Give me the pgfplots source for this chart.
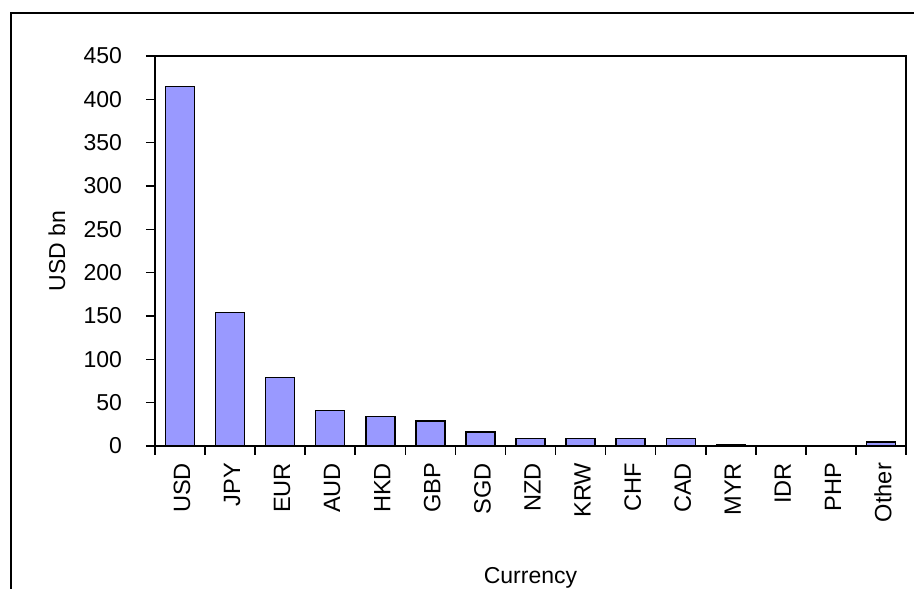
\documentclass[border=0pt]{standalone}
\usepackage{fontspec}
\setmainfont{Liberation Sans}
\usepackage{pgfplots}
\pgfplotsset{compat=1.18}
\definecolor{barblue}{HTML}{9999FF}
\begin{document}
\fontsize{11.5}{13.5}\selectfont
\begin{tikzpicture}
\draw[line width=1pt] (5.5pt,-10pt) rectangle (470pt,287.5pt);
\begin{axis}[
  name=ax,
  at={(77.5pt,71pt)}, anchor=south west,
  scale only axis, width=375.5pt, height=195pt,
  xmin=-0.5, xmax=14.5, ymin=0, ymax=450,
  ytick={0,50,...,450},
  xtick={0,...,14},
  xticklabels={USD,JPY,EUR,AUD,HKD,GBP,SGD,NZD,KRW,CHF,CAD,MYR,IDR,PHP,Other},
  minor xtick={-0.5,0.5,...,14.5},
  major x tick style={draw=none},
  tick align=outside, major tick length=4.5pt, minor tick length=4.5pt,
  xtick pos=bottom, ytick pos=left,
  axis line style={line width=1pt},
  tick style={black, line width=0.8pt},
  xticklabel style={rotate=90, anchor=east, yshift=-1pt, font=\fontsize{11.8}{13.5}\selectfont},
  yticklabel style={font=\fontsize{11.5}{13.5}\selectfont, xshift=-8pt},
  /pgf/number format/assume math mode=true,
  xlabel={Currency}, ylabel={USD bn},
  label style={font=\fontsize{11.5}{13.5}\selectfont},
  xlabel style={at={(rel axis cs:0.5,-0.338)}, anchor=center},
  ylabel style={at={(rel axis cs:-0.1305,0.5)}, anchor=center, rotate=0},
]
\addplot[ybar, bar width=14.5pt, fill=barblue, draw=black, line width=0.7pt] coordinates {
(0,415) (1,154) (2,79) (3,41) (4,34) (5,29) (6,16) (7,8.5) (8,8.5) (9,8.5) (10,8.5) (11,2) (12,0.5) (13,0.5) (14,4.5)
};
\end{axis}
\draw[line width=1pt, black] (ax.south west) rectangle (ax.north east);
\pgfresetboundingbox
\useasboundingbox (0,0) rectangle (457pt,294pt);
\end{tikzpicture}
\end{document}
